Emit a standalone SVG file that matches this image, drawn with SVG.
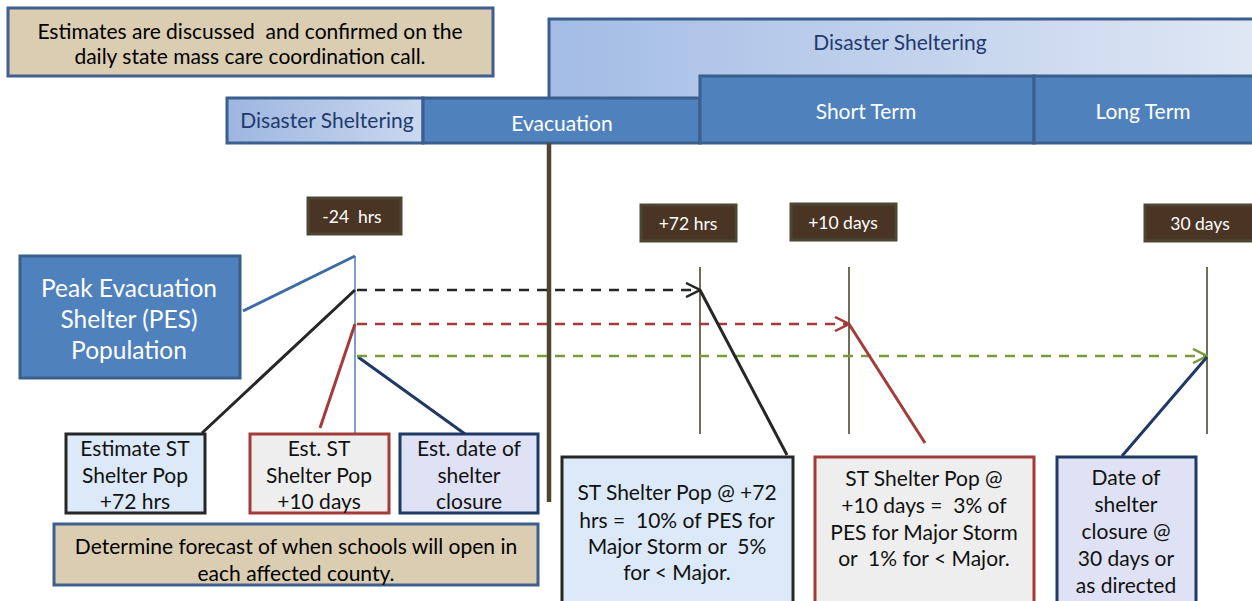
<svg xmlns="http://www.w3.org/2000/svg" width="1252" height="601" viewBox="0 0 1252 601">
<defs>
<linearGradient id="gBig" x1="0" y1="0" x2="1" y2="0">
<stop offset="0" stop-color="#a3bce5"/><stop offset="1" stop-color="#dfe7f4"/>
</linearGradient>
<linearGradient id="gSmall" x1="0" y1="0" x2="1" y2="0">
<stop offset="0" stop-color="#9db6e0"/><stop offset="1" stop-color="#cad8ef"/>
</linearGradient>
<marker id="aBlack" viewBox="0 0 16 16" refX="15" refY="8" markerWidth="16" markerHeight="16" markerUnits="userSpaceOnUse" orient="auto">
<path d="M1,1 L15,8 L1,15" fill="none" stroke="#262626" stroke-width="2.5"/>
</marker>
<marker id="aRed" viewBox="0 0 16 16" refX="15" refY="8" markerWidth="16" markerHeight="16" markerUnits="userSpaceOnUse" orient="auto">
<path d="M1,1 L15,8 L1,15" fill="none" stroke="#a33b3b" stroke-width="2.5"/>
</marker>
<marker id="aGreen" viewBox="0 0 16 16" refX="15" refY="8" markerWidth="16" markerHeight="16" markerUnits="userSpaceOnUse" orient="auto">
<path d="M1,1 L15,8 L1,15" fill="none" stroke="#7a9a3c" stroke-width="2.5"/>
</marker>
</defs>
<style>
text{font-family:Lato,"Liberation Sans",sans-serif;text-anchor:middle;dominant-baseline:central;white-space:pre}
.note{fill:#dbcdb2;stroke:#3e5f8f;stroke-width:3}
.note-t{font-size:21px;fill:#000}
.bar{fill:#4f81bd;stroke:#3a5f8c;stroke-width:3}
.bar-t{font-size:21px;fill:#fff}
.hdr-t{font-size:21px;fill:#1f3b6e}
.tag{fill:#4a3424;stroke:#4d4632;stroke-width:3}
.tag-t{font-size:17.5px;fill:#fff}
.tick{stroke:#4e4a2e;stroke-width:1.6}
.box-t{font-size:21px;fill:#111}
.bk{fill:#dce9f8;stroke:#262626;stroke-width:3}
.rd{fill:#eeeeee;stroke:#a33b3b;stroke-width:3}
.nv{fill:#dfe2f5;stroke:#1f3864;stroke-width:3}
.pes{fill:#4f81bd;stroke:#3a5f8c;stroke-width:3}
.pes-t{font-size:24.5px;fill:#fff}
.dash{stroke-width:2.5;stroke-dasharray:10 8;fill:none}
.solid{stroke-width:3;fill:none}
</style>

<g id="note-top">
<rect class="note" x="8" y="8" width="485" height="68"/>
<text class="note-t" x="250" y="30">Estimates are discussed  and confirmed on the</text>
<text class="note-t" x="250" y="55">daily state mass care coordination call.</text>
</g>

<g id="disaster-sheltering-main">
<rect x="549" y="19" width="706" height="90" fill="url(#gBig)" stroke="#3a5f8c" stroke-width="3"/>
<text class="hdr-t" x="900" y="41">Disaster Sheltering</text>
</g>

<g id="disaster-sheltering-small">
<rect x="227" y="98" width="196" height="45" fill="url(#gSmall)" stroke="#3a5f8c" stroke-width="3"/>
<text class="hdr-t" x="327" y="119">Disaster Sheltering</text>
</g>

<g id="evacuation">
<rect class="bar" x="423" y="98" width="277" height="45"/>
<text class="bar-t" x="562" y="122">Evacuation</text>
</g>

<g id="short-term">
<rect class="bar" x="700" y="76" width="334" height="67"/>
<text class="bar-t" x="866" y="110">Short Term</text>
</g>

<g id="long-term">
<rect class="bar" x="1034" y="76" width="221" height="67"/>
<text class="bar-t" x="1143" y="110">Long Term</text>
</g>

<g id="timeline-axes">
<line x1="549" y1="143" x2="549" y2="502" stroke="#4e4631" stroke-width="4.5"/>
<line x1="355" y1="256" x2="355" y2="438" stroke="#4f81bd" stroke-width="1.5"/>
<line class="tick" x1="700" y1="267" x2="700" y2="434"/>
<line class="tick" x1="849" y1="267" x2="849" y2="434"/>
<line class="tick" x1="1207" y1="267" x2="1207" y2="434"/>
</g>

<g id="tag-minus24">
<rect class="tag" x="308" y="198" width="93" height="36"/>
<text class="tag-t" x="352" y="216">-24  hrs</text>
</g>
<g id="tag-72">
<rect class="tag" x="641" y="205" width="95" height="36"/>
<text class="tag-t" x="688" y="223">+72 hrs</text>
</g>
<g id="tag-10days">
<rect class="tag" x="791" y="204" width="105" height="36"/>
<text class="tag-t" x="843" y="222">+10 days</text>
</g>
<g id="tag-30days">
<rect class="tag" x="1145" y="205" width="110" height="36"/>
<text class="tag-t" x="1200" y="223">30 days</text>
</g>

<g id="pes">
<rect class="pes" x="20" y="256" width="220" height="122"/>
<text class="pes-t" x="129" y="287">Peak Evacuation</text>
<text class="pes-t" x="129" y="318">Shelter (PES)</text>
<text class="pes-t" x="129" y="349">Population</text>
</g>

<g id="connectors">
<line class="solid" x1="243" y1="311" x2="355" y2="256" stroke="#3e6ba3"/>
<line class="solid" x1="355" y1="290" x2="202" y2="433" stroke="#262626"/>
<line class="solid" x1="355" y1="324" x2="320" y2="428" stroke="#a33b3b"/>
<line class="solid" x1="358" y1="357" x2="465" y2="434" stroke="#1f3864"/>
<line class="dash" x1="357" y1="290" x2="700" y2="290" stroke="#262626" marker-end="url(#aBlack)"/>
<line class="dash" x1="357" y1="324" x2="849" y2="324" stroke="#a33b3b" marker-end="url(#aRed)"/>
<line class="dash" x1="357" y1="356" x2="1207" y2="356" stroke="#7a9a3c" marker-end="url(#aGreen)"/>
<line class="solid" x1="700" y1="290" x2="787" y2="455" stroke="#262626"/>
<line class="solid" x1="849" y1="324" x2="925" y2="443" stroke="#a33b3b"/>
<line class="solid" x1="1207" y1="357" x2="1122" y2="456" stroke="#1f3864"/>
</g>

<g id="est-72">
<rect class="bk" x="66" y="434" width="139" height="79"/>
<text class="box-t" x="135" y="447">Estimate ST</text>
<text class="box-t" x="135" y="474">Shelter Pop</text>
<text class="box-t" x="135" y="500">+72 hrs</text>
</g>
<g id="est-10">
<rect class="rd" x="250" y="434" width="139" height="79"/>
<text class="box-t" x="319" y="447">Est. ST</text>
<text class="box-t" x="319" y="474">Shelter Pop</text>
<text class="box-t" x="319" y="500">+10 days</text>
</g>
<g id="est-closure">
<rect class="nv" x="400" y="434" width="138" height="79"/>
<text class="box-t" x="469" y="447">Est. date of</text>
<text class="box-t" x="469" y="474">shelter</text>
<text class="box-t" x="469" y="500">closure</text>
</g>

<g id="note-bottom">
<rect class="note" x="54" y="524" width="484" height="61"/>
<text class="note-t" x="296" y="545">Determine forecast of when schools will open in</text>
<text class="note-t" x="296" y="572">each affected county.</text>
</g>

<g id="st-72">
<rect class="bk" x="562" y="457" width="231" height="150"/>
<text class="box-t" x="677" y="491">ST Shelter Pop @ +72</text>
<text class="box-t" x="677" y="519">hrs =  10% of PES for</text>
<text class="box-t" x="677" y="545">Major Storm or  5%</text>
<text class="box-t" x="677" y="571">for &lt; Major.</text>
</g>
<g id="st-10">
<rect class="rd" x="815" y="457" width="219" height="150"/>
<text class="box-t" x="924" y="477">ST Shelter Pop @</text>
<text class="box-t" x="924" y="504">+10 days =  3% of</text>
<text class="box-t" x="924" y="531">PES for Major Storm</text>
<text class="box-t" x="924" y="557">or  1% for &lt; Major.</text>
</g>
<g id="closure-30">
<rect class="nv" x="1057" y="457" width="139" height="150"/>
<text class="box-t" x="1126" y="476">Date of</text>
<text class="box-t" x="1126" y="503">shelter</text>
<text class="box-t" x="1126" y="530">closure @</text>
<text class="box-t" x="1126" y="557">30 days or</text>
<text class="box-t" x="1126" y="584">as directed</text>
</g>
</svg>
